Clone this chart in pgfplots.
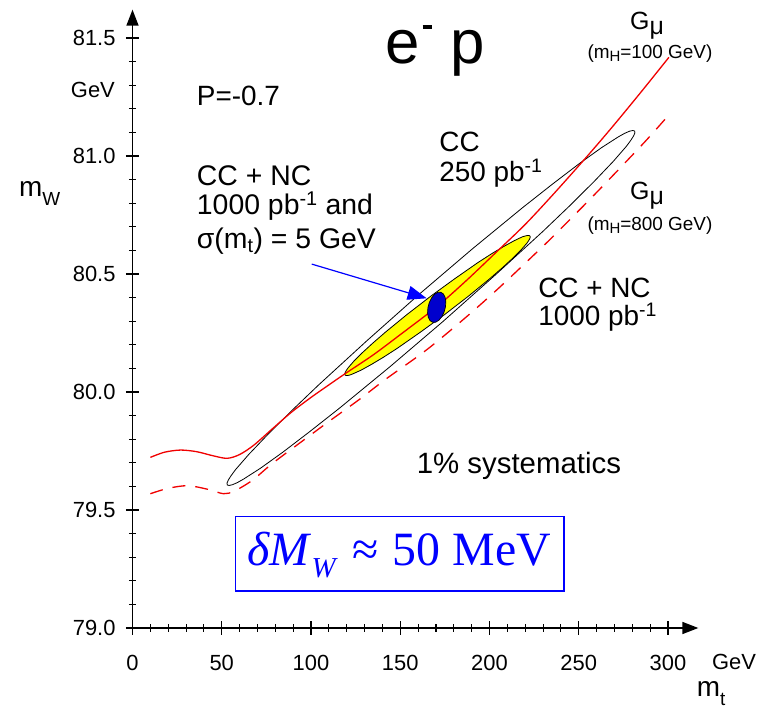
\documentclass[border=0pt]{standalone}
\usepackage{pgfplots}
\pgfplotsset{compat=1.18}
\usetikzlibrary{arrows.meta}
\usepackage{fontspec}
\setmainfont{Liberation Sans}
\newfontfamily\tms{Liberation Serif}
\definecolor{myred}{RGB}{240,0,0}
\definecolor{myyellow}{RGB}{255,255,0}
\definecolor{myblue}{RGB}{0,0,255}
\definecolor{ellblue}{RGB}{0,0,205}
\newcommand{\fs}[1]{\fontsize{#1}{#1}\selectfont}
\begin{document}
\begin{tikzpicture}
\useasboundingbox (0,0) rectangle (767bp,712bp);
\begin{axis}[
  at={(132.5bp,84bp)}, anchor=south west,
  x=1.785bp, y=236bp,
  xmin=0, xmax=317, ymin=79, ymax=81.62,
  enlargelimits=false, clip=false,
  axis x line=bottom, axis y line=left,
  axis line style={line width=1.5bp, -{Triangle[length=16bp,width=12bp]}},
  xtick={0,50,100,150,200,250,300},
  ytick={79,79.5,80,80.5,81,81.5},
  minor x tick num=4, minor y tick num=4,
  tick align=center,
  major tick length=13bp, minor tick length=7bp,
  tick style={line width=1.1bp, black},
  /pgf/number format/assume math mode=true,
  xticklabel style={font=\fs{22}, yshift=-17bp},
  yticklabel style={font=\fs{22}, xshift=-7bp, /pgf/number format/fixed, /pgf/number format/fixed zerofill, /pgf/number format/precision=1},
  no markers,
]
% CC 250 pb^-1 contour
\addplot[black, line width=0.8bp] coordinates {
(281.3,81.106) (280.29,81.108) (278.42,81.105) (275.70,81.096) (272.16,81.081) (262.70,81.035) (250.35,80.968) (235.47,80.882) (218.52,80.781) (190.34,80.606) (160.58,80.414) (131.28,80.217) (104.42,80.031) (88.79,79.918) (75.55,79.818) (65.08,79.735) (57.72,79.671) (55.28,79.646) (53.68,79.627) (52.95,79.614) (53.1,79.606) (54.11,79.604) (55.98,79.607) (58.70,79.616) (62.24,79.631) (71.70,79.677) (84.06,79.744) (98.93,79.830) (115.88,79.931) (144.06,80.106) (173.82,80.298) (203.12,80.495) (229.98,80.681) (245.61,80.794) (258.86,80.894) (269.32,80.977) (276.68,81.041) (279.12,81.066) (280.72,81.085) (281.45,81.098) (281.3,81.106)};
% CC+NC 1000 pb^-1 contour
\addplot[fill=myyellow, draw=black, line width=0.8bp] coordinates {
(222.69,80.661) (222.15,80.663) (221.23,80.663) (219.92,80.661) (218.25,80.657) (213.81,80.641) (208.07,80.617) (201.22,80.586) (193.43,80.548) (180.54,80.480) (167.00,80.4055) (153.72,80.328) (141.61,80.253) (134.60,80.207) (128.69,80.166) (124.06,80.131) (120.85,80.103) (119.82,80.092) (119.17,80.083) (118.91,80.077) (119.05,80.072) (119.59,80.070) (120.51,80.070) (121.82,80.072) (123.49,80.077) (127.93,80.092) (133.67,80.116) (140.52,80.147) (148.31,80.185) (161.20,80.253) (174.74,80.3275) (188.02,80.405) (200.13,80.480) (207.14,80.526) (213.05,80.567) (217.69,80.602) (220.89,80.630) (221.92,80.641) (222.57,80.650) (222.83,80.657) (222.69,80.661)};
% G_mu, mH=100 GeV
\addplot[myred, line width=1.3bp, smooth] coordinates {
(10,79.723) (18,79.745) (27,79.754) (36,79.747) (45,79.730) (53,79.719) (60,79.735) (68,79.775) (78.5,79.845) (89,79.914) (100,79.977) (110,80.030) (119,80.077) (135,80.158) (150,80.243) (170.4,80.361) (187,80.472) (204,80.594) (220,80.71) (236,80.84) (254.5,80.997) (269,81.125) (285,81.272) (300.5,81.418)};
% G_mu, mH=800 GeV
\addplot[myred, line width=1.3bp, smooth, dash pattern=on 13bp off 10bp] coordinates {
(10,79.569) (20,79.592) (31,79.603) (42,79.588) (51,79.569) (57,79.58) (67,79.625) (78,79.695) (93,79.78) (110,79.875) (127,79.968) (142,80.055) (165,80.18) (187,80.318) (206,80.446) (231,80.625) (243,80.715) (258,80.83) (273,80.948) (288,81.068) (300,81.17)};
% sigma(mt)=5 GeV contour
\addplot[fill=ellblue, draw=black, line width=0.7bp] coordinates {
(172.68,80.4228) (170.97,80.4222) (169.20,80.4139) (167.57,80.399) (166.28,80.3793) (165.50,80.3571) (165.31,80.3352) (165.73,80.3161) (166.72,80.3022) (168.16,80.2952) (169.87,80.2958) (171.64,80.3041) (173.27,80.319) (174.56,80.3387) (175.34,80.3609) (175.54,80.3828) (175.11,80.4019) (174.12,80.4158) (172.68,80.4228)};

% arrow
\draw[myblue, line width=1.2bp, -{Triangle[length=19bp,width=14bp]}] (axis cs:100.4,80.542) -- (axis cs:164.8,80.397);
% box
\draw[myblue, line width=1.5bp] (axis cs:57.8,79.157) rectangle (axis cs:241.8,79.472);
\node[anchor=base, inner sep=0, text=myblue, font=\tms\fs{48}] at (axis cs:149.4,79.263)
  {\textit{δM}\raisebox{-12bp}{\fs{29}\textit{W}}\hspace{0.3em}≈\hspace{0.3em}50 MeV};

% labels
\node[anchor=base west, inner sep=0, font=\fs{62}] at (axis cs:141.5,81.393) {e\hspace{3bp}\raisebox{34bp}{\rule{9bp}{4bp}}\hspace{0.3em}p};
\node[anchor=base west, inner sep=0, font=\fs{28}] at (axis cs:36,81.216) {P=-0.7};
\node[anchor=base west, inner sep=0, font=\fs{28.5}] at (axis cs:36,80.877) {CC + NC};
\node[anchor=base west, inner sep=0, font=\fs{28.5}] at (axis cs:36,80.75) {1000 pb\textsuperscript{-1} and};
\node[anchor=base west, inner sep=0, font=\fs{28.5}] at (axis cs:36,80.609) {σ(m\textsubscript{t}) = 5 GeV};
\node[anchor=base west, inner sep=0, font=\fs{28}] at (axis cs:171.8,81.018) {CC};
\node[anchor=base west, inner sep=0, font=\fs{28}] at (axis cs:171.8,80.891) {250 pb\textsuperscript{-1}};
\node[anchor=base west, inner sep=0, font=\fs{28}] at (axis cs:227.2,80.401) {CC + NC};
\node[anchor=base west, inner sep=0, font=\fs{28}] at (axis cs:227.2,80.28) {1000 pb\textsuperscript{-1}};
\node[anchor=base west, inner sep=0, font=\fs{29.5}] at (axis cs:159.2,79.656) {1\% systematics};
\node[anchor=base west, inner sep=0, font=\fs{25}] at (axis cs:278.7,81.537) {G\raisebox{-5bp}{μ}};
\node[anchor=base, inner sep=0, font=\fs{19}] at (axis cs:289.9,81.415) {(m\raisebox{-3bp}{\fs{15}H}=100 GeV)};
\node[anchor=base west, inner sep=0, font=\fs{25}] at (axis cs:278.7,80.814) {G\raisebox{-5bp}{μ}};
\node[anchor=base, inner sep=0, font=\fs{19}] at (axis cs:289.9,80.686) {(m\raisebox{-3bp}{\fs{15}H}=800 GeV)};
% axis units and titles
\node[anchor=east, inner sep=0, font=\fs{22}] at (axis cs:-9.8,81.28) {GeV};
\node[anchor=west, inner sep=0, font=\fs{22}] at (axis cs:324.6,78.856) {GeV};
\node[anchor=base west, inner sep=0, font=\fs{28}] at (axis cs:-63.6,80.8275) {m\raisebox{-9bp}{\fs{19}W}};
\node[anchor=base west, inner sep=0, font=\fs{28}] at (axis cs:316,78.71) {m\raisebox{-9bp}{\fs{19}t}};
\end{axis}
\end{tikzpicture}
\end{document}
